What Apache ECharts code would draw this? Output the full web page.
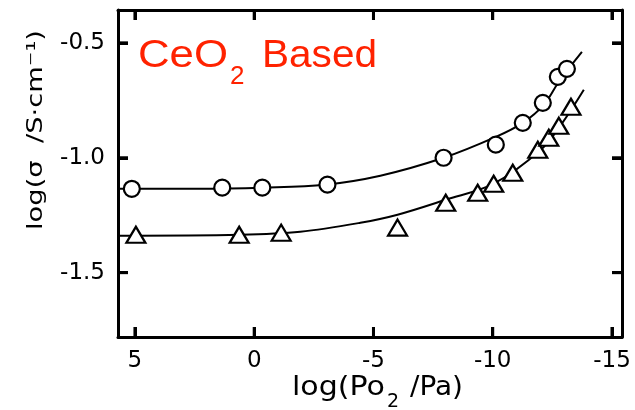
<!DOCTYPE html>
<html>
<head>
<meta charset="utf-8">
<script src="https://cdn.jsdelivr.net/npm/echarts@6/dist/echarts.min.js"></script>
<style>
  html, body { margin: 0; padding: 0; background: #fff; }
  #chart { width: 635px; height: 410px; }
</style>
</head>
<body>
<div id="chart"></div>
<script>
// Axis ticks
const xTicks = [5, 0, -5, -10, -15];
const yTicks = [-0.5, -1.0, -1.5];

// Measured points: log(Po2/Pa) vs log(sigma / S cm^-1)
const circleX = [5.13, 1.34, -0.34, -3.07, -7.94, -10.13, -11.26, -12.10, -12.73, -13.11];
const circleY = [-1.135, -1.130, -1.130, -1.117, -1.000, -0.943, -0.848, -0.761, -0.648, -0.613];

const triangleX = [4.96, 0.63, -1.13, -6.01, -8.03, -9.37, -10.04, -10.84, -11.89, -12.35, -12.77, -13.28];
const triangleY = [-1.335, -1.335, -1.326, -1.304, -1.196, -1.152, -1.113, -1.065, -0.965, -0.913, -0.861, -0.778];

// Fitted curves through each set
const circleFitX = [5.71, 2.27, -0.34, -2.98, -5.29, -7.94, -10.13, -11.26, -12.14, -12.80, -13.74];
const circleFitY = [-1.135, -1.135, -1.130, -1.117, -1.078, -1.000, -0.909, -0.848, -0.770, -0.665, -0.539];

const triangleFitX = [5.71, 0.59, -1.93, -4.45, -6.01, -8.03, -10.04, -12.02, -12.86, -13.82];
const triangleFitY = [-1.339, -1.335, -1.322, -1.283, -1.248, -1.183, -1.113, -0.965, -0.857, -0.704];

const pairs = (xs, ys) => xs.map((x, i) => [x, ys[i]]);

const FONT = "'DejaVu Sans', sans-serif";
const TITLE_FONT = "'Liberation Sans', Arial, sans-serif";
const X_MIN = -15.42, X_MAX = 5.71;
const Y_MIN = -1.78, Y_MAX = -0.357;
const TICK_LEN = 10;

// Text width helper, used to stretch labels to a target length
const measureCtx = document.createElement('canvas').getContext('2d');
function textWidth(text, font) {
  measureCtx.font = font;
  return measureCtx.measureText(text).width;
}
// Text element stretched horizontally to span `width` px starting at x
function stretchedText(text, font, x, y, width, fill) {
  return {
    type: 'text', x: x, y: y, scaleX: width / textWidth(text, font),
    style: { text: text, fill: fill, font: font, align: 'left', verticalAlign: 'middle' }
  };
}

const titleBig = '38px ' + TITLE_FONT;
const titleSub = '26px ' + TITLE_FONT;
const ceoWidth = 90;
const axisBig = '26px ' + FONT;
const axisSub = '19px ' + FONT;
const yTitleFont = '22px ' + FONT;

// One side of the frame with inward ticks; every axis gets its own option objects
function axisOf(kind, position, ticks, withLabels) {
  const axis = {
    type: 'value', position: position,
    min: kind === 'x' ? X_MIN : Y_MIN,
    max: kind === 'x' ? X_MAX : Y_MAX,
    splitLine: { show: false },
    axisLine: { show: true, onZero: false, lineStyle: { color: '#000', width: 3 } },
    axisTick: { show: true, inside: true, length: TICK_LEN, customValues: ticks.slice(), lineStyle: { color: '#000', width: 3 } },
    axisLabel: withLabels ? {
      customValues: ticks.slice(), margin: 13, color: '#000', fontFamily: FONT, fontSize: 23,
      formatter: kind === 'x' ? (v => String(v)) : (v => v.toFixed(1))
    } : { show: false, customValues: ticks.slice() }
  };
  if (kind === 'x') axis.inverse = true;
  return axis;
}

const chart = echarts.init(document.getElementById('chart'));

chart.setOption({
  animation: false,
  grid: { left: 118, top: 10, right: 13, bottom: 73 },
  xAxis: [axisOf('x', 'bottom', xTicks, true), axisOf('x', 'top', xTicks, false)],
  yAxis: [axisOf('y', 'left', yTicks, true), axisOf('y', 'right', yTicks, false)],
  series: [
    {
      name: 'circle fit', type: 'line', smooth: 0.35, showSymbol: false, symbol: 'none',
      data: pairs(circleFitX, circleFitY),
      lineStyle: { color: '#000', width: 2 }
    },
    {
      name: 'triangle fit', type: 'line', smooth: 0.35, showSymbol: false, symbol: 'none',
      data: pairs(triangleFitX, triangleFitY),
      lineStyle: { color: '#000', width: 2 }
    },
    {
      name: 'circles', type: 'scatter', symbol: 'circle', symbolSize: 16, z: 3,
      data: pairs(circleX, circleY),
      itemStyle: { color: '#fff', borderColor: '#000', borderWidth: 2.2, opacity: 1 }
    },
    {
      name: 'triangles', type: 'scatter', symbol: 'triangle', symbolSize: [19, 16], z: 3,
      data: pairs(triangleX, triangleY),
      itemStyle: { color: '#fff', borderColor: '#000', borderWidth: 2.2, opacity: 1 }
    }
  ]
});

// Tick marks on all four frame sides, placed through the grid's own scales
const toPx = (x, y) => chart.convertToPixel({ gridIndex: 0 }, [x, y]);
const tickLine = (a, b) => ({
  type: 'line', z: 100, silent: true,
  shape: { x1: a[0], y1: a[1], x2: b[0], y2: b[1] },
  style: { stroke: '#000', lineWidth: 3 }
});
const tickMarks = [];
xTicks.forEach(v => {
  const bottom = toPx(v, Y_MIN), top = toPx(v, Y_MAX);
  if (bottom && isFinite(bottom[0]) && isFinite(bottom[1])) {
    tickMarks.push(tickLine(bottom, [bottom[0], bottom[1] - TICK_LEN]));
    tickMarks.push(tickLine(top, [top[0], top[1] + TICK_LEN]));
  }
});
yTicks.forEach(v => {
  const left = toPx(X_MAX, v), right = toPx(X_MIN, v);
  if (left && isFinite(left[0]) && isFinite(left[1])) {
    tickMarks.push(tickLine(left, [left[0] + TICK_LEN, left[1]]));
    tickMarks.push(tickLine(right, [right[0] - TICK_LEN, right[1]]));
  }
});

chart.setOption({
  graphic: {
    elements: tickMarks.concat([
      // Title: CeO2 Based
      stretchedText('CeO', titleBig, 138, 57, ceoWidth, '#ff2200'),
      { type: 'text', x: 138 + ceoWidth + 2, y: 77, style: { text: '2', fill: '#ff2200', font: titleSub, align: 'left', verticalAlign: 'middle' } },
      stretchedText('Based', titleBig, 262, 57, 115, '#ff2200'),
      // x-axis title
      stretchedText('log(Po', axisBig, 292, 388, 93, '#000'),
      { type: 'text', x: 387, y: 402, style: { text: '2', fill: '#000', font: axisSub, align: 'left', verticalAlign: 'middle' } },
      stretchedText('/Pa)', axisBig, 410, 388, 53, '#000'),
      // y-axis title, reading bottom to top
      {
        type: 'text', x: 36, y: 130, rotation: Math.PI / 2,
        scaleX: 200 / textWidth('log(σ  /S·cm⁻¹)', yTitleFont),
        style: { text: 'log(σ  /S·cm⁻¹)', fill: '#000', font: yTitleFont, align: 'center', verticalAlign: 'middle' }
      }
    ])
  }
});
</script>
</body>
</html>
